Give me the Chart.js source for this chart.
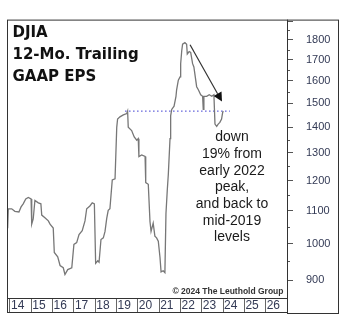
<!DOCTYPE html>
<html lang="en">
<head>
<meta charset="UTF-8" />
<title>DJIA 12-Mo. Trailing GAAP EPS</title>
<style>
  html, body { margin: 0; padding: 0; background: #fff; }
  #chart { display: block; }
</style>
<script src="https://cdn.jsdelivr.net/npm/chart.js"></script>
</head>
<body>
<canvas id="chart" width="350" height="327"></canvas>
<script>
  // trailing EPS (decimal year, value)
  const years = [
    2013.89, 2013.92, 2014.08, 2014.23, 2014.42, 2014.52, 2014.62, 2014.74, 2014.86, 2014.99,
    2015.02, 2015.09, 2015.17, 2015.33, 2015.45, 2015.49, 2015.64, 2015.80, 2015.88, 2016.03,
    2016.08, 2016.24, 2016.35, 2016.50, 2016.58, 2016.71, 2016.90, 2017.00, 2017.13, 2017.24,
    2017.39, 2017.52, 2017.60, 2017.75, 2017.86, 2017.96, 2018.02, 2018.12, 2018.18, 2018.27,
    2018.38, 2018.46, 2018.54, 2018.61, 2018.69, 2018.74, 2018.80, 2018.93, 2019.01, 2019.05,
    2019.16, 2019.32, 2019.48, 2019.52, 2019.55, 2019.71, 2019.83, 2019.95, 2020.02, 2020.05,
    2020.18, 2020.34, 2020.37, 2020.49, 2020.57, 2020.62, 2020.72, 2020.80, 2020.88, 2020.96,
    2021.04, 2021.09, 2021.19, 2021.27, 2021.32, 2021.38, 2021.43, 2021.51, 2021.54, 2021.59,
    2021.70, 2021.79, 2021.82, 2021.90, 2021.98, 2022.01, 2022.06, 2022.10, 2022.21, 2022.29,
    2022.32, 2022.41, 2022.48, 2022.57, 2022.63, 2022.76, 2022.84, 2022.95, 2023.04, 2023.07,
    2023.10, 2023.23, 2023.35, 2023.47, 2023.57, 2023.62, 2023.70, 2023.77, 2023.85, 2023.93,
    2023.98, 2024.01
  ];
  const eps = [
    1046, 1106, 1106, 1098, 1096, 1112, 1122, 1138, 1143, 1138,
    1058, 1074, 1133, 1125, 1122, 1086, 1078, 1068, 1058, 1046,
    975, 963, 939, 933, 915, 928, 933, 998, 1003, 1027,
    1038, 1068, 1106, 1115, 1125, 1122, 945, 952, 948, 1012,
    1017, 1036, 1076, 1101, 1106, 1149, 1202, 1206, 1399, 1433,
    1442, 1450, 1456, 1466, 1399, 1386, 1361, 1348, 1354, 1286,
    1292, 1286, 1193, 1187, 1066, 1036, 1061, 1022, 1017, 1007,
    961, 922, 925, 920, 1091, 1165, 1221, 1354, 1446, 1473,
    1487, 1530, 1559, 1603, 1618, 1681, 1745, 1778, 1786, 1778,
    1729, 1741, 1737, 1681, 1665, 1573, 1559, 1537, 1530, 1473,
    1530, 1530, 1537, 1530, 1537, 1412, 1403, 1412, 1419, 1433,
    1460, 1466
  ];

  const yearTicks = [2014, 2015, 2016, 2017, 2018, 2019, 2020, 2021, 2022, 2023, 2024, 2025, 2026];
  const epsTicks = [900, 1000, 1100, 1200, 1300, 1400, 1500, 1600, 1700, 1800, 1900];
  const epsMinorTicks = [950, 1050, 1150, 1250, 1350, 1450, 1550, 1650, 1750, 1850];

  // mid-2019 level reference and the "down 19%" arrow
  const refYears = [2019.40, 2024.32];
  const refLevel = [1466, 1466];
  const arrowYears = [2022.45, 2023.95];
  const arrowEps = [1775, 1507];

  const titleLines = ["DJIA", "12-Mo. Trailing", "GAAP EPS"];
  const noteLines = ["down", "19% from", "early 2022", "peak,", "and back to", "mid-2019", "levels"];
  const credit = "\u00a9 2024 The Leuthold Group";

  const labelColor = "#333a55";

  const decorations = {
    id: "decorations",
    afterDraw(chart) {
      const { ctx, chartArea: a, scales: { x, y } } = chart;
      ctx.save();

      // short ticks between the labelled ones
      ctx.strokeStyle = "#555";
      ctx.lineWidth = 1;
      epsMinorTicks.forEach((v) => {
        const py = Math.round(y.getPixelForValue(v)) + 0.5;
        ctx.beginPath();
        ctx.moveTo(a.right, py);
        ctx.lineTo(a.right + 3, py);
        ctx.stroke();
      });

      // frames
      ctx.strokeStyle = "#333";
      ctx.strokeRect(a.left + 0.5, a.top + 0.5, a.right - a.left, x.bottom - a.top);
      ctx.beginPath();
      ctx.moveTo(a.left, a.bottom + 0.5);
      ctx.lineTo(a.right, a.bottom + 0.5);
      ctx.stroke();
      ctx.strokeRect(y.left + 0.5, y.top + 0.5, y.right - y.left, x.bottom + 1 - y.top);

      // arrow
      const x0 = x.getPixelForValue(arrowYears[0]);
      const y0 = y.getPixelForValue(arrowEps[0]);
      const x1 = x.getPixelForValue(arrowYears[1]);
      const y1 = y.getPixelForValue(arrowEps[1]);
      const ang = Math.atan2(y1 - y0, x1 - x0);
      const head = 9, half = 4.5;
      const bx = x1 - head * Math.cos(ang);
      const by = y1 - head * Math.sin(ang);
      ctx.strokeStyle = "#333";
      ctx.lineWidth = 1.2;
      ctx.beginPath();
      ctx.moveTo(x0, y0);
      ctx.lineTo(bx, by);
      ctx.stroke();
      ctx.fillStyle = "#111";
      ctx.beginPath();
      ctx.moveTo(x1, y1);
      ctx.lineTo(bx + half * Math.sin(ang), by - half * Math.cos(ang));
      ctx.lineTo(bx - half * Math.sin(ang), by + half * Math.cos(ang));
      ctx.closePath();
      ctx.fill();

      // title
      ctx.fillStyle = "#111";
      ctx.font = "bold 15px 'DejaVu Sans', sans-serif";
      ctx.textAlign = "left";
      ctx.textBaseline = "alphabetic";
      titleLines.forEach((t, i) => ctx.fillText(t, a.left + 5.5, a.top + 17 + i * 22));

      // note
      ctx.font = "14px 'Liberation Sans', Arial, sans-serif";
      ctx.textAlign = "center";
      ctx.textBaseline = "middle";
      ctx.fillStyle = "#1a1a1a";
      noteLines.forEach((t, i) => ctx.fillText(t, a.left + 225, a.top + 118 + i * 16.65));

      // credit
      ctx.font = "bold 8.5px 'Liberation Sans', Arial, sans-serif";
      ctx.textAlign = "right";
      ctx.fillStyle = "#333";
      ctx.fillText(credit, a.right - 3.5, a.bottom - 6.5);

      ctx.restore();
    },
  };

  new Chart(document.getElementById("chart").getContext("2d"), {
    type: "line",
    data: {
      datasets: [
        {
          data: years.map((t, i) => ({ x: t, y: eps[i] })),
          borderColor: "#777",
          borderWidth: 1.3,
          pointRadius: 0,
          tension: 0,
        },
        {
          data: refYears.map((t, i) => ({ x: t, y: refLevel[i] })),
          borderColor: "#3a3ad0",
          borderWidth: 1,
          borderDash: [1.5, 2.5],
          pointRadius: 0,
        },
      ],
    },
    options: {
      responsive: false,
      animation: false,
      devicePixelRatio: 1,
      layout: { padding: { left: 7, top: 13, right: 12, bottom: 15 } },
      plugins: { legend: { display: false }, tooltip: { enabled: false } },
      scales: {
        x: {
          type: "linear",
          min: 2013.86,
          max: 2027,
          afterBuildTicks: (scale) => { scale.ticks = yearTicks.map((v) => ({ value: v })); },
          afterFit: (scale) => { scale.height = 14; },
          border: { display: false },
          grid: { drawOnChartArea: false, tickLength: 14, tickColor: "#666" },
          ticks: {
            autoSkip: false,
            maxRotation: 0,
            align: "start",
            padding: -14,
            labelOffset: 1,
            color: labelColor,
            font: { family: "'Liberation Sans', Arial, sans-serif", size: 12 },
            callback: (v) => String(v % 100),
          },
        },
        y: {
          type: "logarithmic",
          position: "right",
          min: 855,
          max: 1909,
          afterBuildTicks: (scale) => { scale.ticks = epsTicks.map((v) => ({ value: v })); },
          afterFit: (scale) => { scale.width = 51; },
          border: { display: false },
          grid: { drawOnChartArea: false, tickLength: 6, tickColor: "#555" },
          ticks: {
            padding: 13,
            color: labelColor,
            font: { family: "'Liberation Sans', Arial, sans-serif", size: 11 },
            callback: (v) => (v >= 1900 ? "" : String(v)),
          },
        },
      },
    },
    plugins: [decorations],
  });
</script>
</body>
</html>
